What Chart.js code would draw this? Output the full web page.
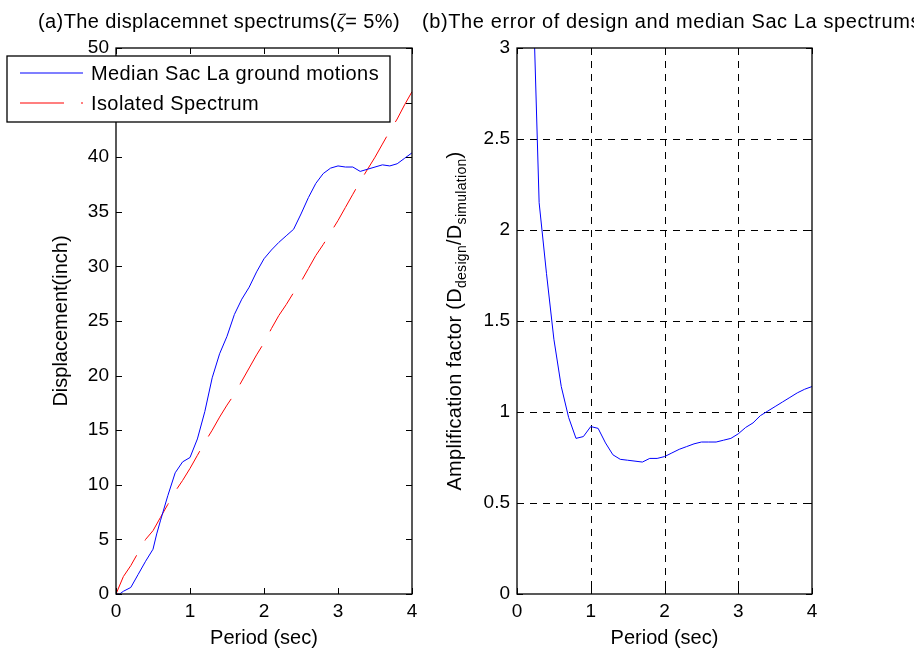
<!DOCTYPE html>
<html>
<head>
<meta charset="utf-8">
<script src="https://cdn.jsdelivr.net/npm/chart.js@4.4.0/dist/chart.umd.min.js"></script>
<style>
body { margin:0; width:914px; height:666px; overflow:hidden; position:relative; background:#fff; font-family:"Liberation Sans", Arial, sans-serif; }
.box { position:absolute; top:0; height:666px; }
.ttl { position:absolute; top:11px; font-size:20px; line-height:20px; letter-spacing:0.4px; white-space:nowrap; color:#000; z-index:2; }
</style>
</head>
<body>
<div class="ttl" style="left:38px">(a)The displacemnet spectrums(<span style="font-family:'Liberation Serif';font-style:italic">ζ</span>= 5%)</div>
<div class="ttl" style="left:422px;letter-spacing:0.6px">(b)The error of design and median Sac La spectrums</div>
<div class="box" style="left:0;width:460px"><canvas id="chartA" width="460" height="666"></canvas></div>
<div class="box" style="left:420px;width:494px"><canvas id="chartB" width="494" height="666"></canvas></div>
<script>
const FONT = '"Liberation Sans", Arial, sans-serif';

// (a) displacement spectra
const periodMedian = [0, 0.05, 0.1, 0.2, 0.3, 0.4, 0.5, 0.55, 0.6, 0.7, 0.8, 0.9, 1.0, 1.1, 1.2, 1.3, 1.4, 1.5, 1.6, 1.7, 1.8, 1.9, 2.0,
  2.1, 2.2, 2.3, 2.4, 2.5, 2.6, 2.7, 2.8, 2.9, 3.0, 3.1, 3.2, 3.3, 3.4, 3.5, 3.6, 3.7, 3.8, 3.9, 4.0];
const medianSacLa = [0, 0, 0.25, 0.6, 1.8, 3.0, 4.1, 5.5, 6.7, 9.0, 11.1, 12.1, 12.5, 14.2, 16.7, 19.8, 22.0, 23.6, 25.6, 27.0, 28.1, 29.5, 30.7,
  31.5, 32.2, 32.8, 33.4, 34.8, 36.3, 37.6, 38.5, 39.0, 39.2, 39.1, 39.1, 38.7, 38.9, 39.1, 39.3, 39.2, 39.4, 39.9, 40.4];
const periodIsolated = [0, 0.1, 0.2, 0.3, 0.4, 0.5, 0.6, 0.7, 0.8, 0.9, 1.0, 1.1, 1.2, 1.3, 1.4, 1.5, 1.6, 1.7, 1.8, 1.9, 2.0,
  2.1, 2.2, 2.3, 2.4, 2.5, 2.6, 2.7, 2.8, 2.9, 3.0, 3.1, 3.2, 3.3, 3.4, 3.5, 3.6, 3.7, 3.8, 3.9, 4.0];
const isolatedSpectrum = [0, 1.6, 2.6, 3.8, 5.0, 5.8, 7.0, 8.2, 9.4, 10.4, 11.5, 12.7, 13.9, 15.0, 16.2, 17.3, 18.3, 19.5, 20.7, 21.9, 23.0,
  24.3, 25.5, 26.5, 27.6, 28.6, 29.8, 31.0, 32.0, 33.1, 34.2, 35.4, 36.6, 37.8, 38.9, 40.0, 41.2, 42.4, 43.5, 44.8, 46.0];

// (b) amplification factor D_design / D_simulation
const periodRatio = [0.2, 0.3, 0.4, 0.5, 0.6, 0.7, 0.8, 0.9, 1.0, 1.1, 1.2, 1.3, 1.4, 1.5, 1.6, 1.7, 1.8, 1.9, 2.0,
  2.1, 2.2, 2.3, 2.4, 2.5, 2.6, 2.7, 2.8, 2.9, 3.0, 3.1, 3.2, 3.3, 3.4, 3.5, 3.6, 3.7, 3.8, 3.9, 4.0];
const amplification = [3.55, 2.15, 1.76, 1.40, 1.14, 0.97, 0.855, 0.865, 0.92, 0.91, 0.83, 0.765, 0.74, 0.735, 0.73, 0.725, 0.745, 0.745, 0.755,
  0.775, 0.795, 0.81, 0.825, 0.835, 0.835, 0.835, 0.845, 0.855, 0.88, 0.915, 0.94, 0.98, 1.005, 1.03, 1.055, 1.08, 1.105, 1.125, 1.14];

const legendLabels = ['Median Sac La ground motions', 'Isolated Spectrum'];
const redDash = [44, 17];

const pts = (xs, ys) => xs.map((x, i) => ({ x: x, y: ys[i] }));

// box, inward ticks and (optional) dashed grid, matlab style
const frame = {
  id: 'frame',
  beforeDatasetsDraw(chart, args, opts) {
    if (!opts.grid) return;
    const { ctx, chartArea: a, scales: { x, y } } = chart;
    ctx.save();
    ctx.strokeStyle = '#000';
    ctx.lineWidth = 1;
    ctx.setLineDash([7, 6]);
    ctx.beginPath();
    x.ticks.forEach(t => {
      const px = Math.round(x.getPixelForValue(t.value)) + 0.5;
      if (px > a.left + 2 && px < a.right - 2) { ctx.moveTo(px, a.top); ctx.lineTo(px, a.bottom); }
    });
    y.ticks.forEach(t => {
      const py = Math.round(y.getPixelForValue(t.value)) + 0.5;
      if (py > a.top + 2 && py < a.bottom - 2) { ctx.moveTo(a.left, py); ctx.lineTo(a.right, py); }
    });
    ctx.stroke();
    ctx.restore();
  },
  afterDatasetsDraw(chart) {
    const { ctx, chartArea: a, scales: { x, y } } = chart;
    ctx.save();
    ctx.strokeStyle = '#000';
    ctx.lineWidth = 1;
    ctx.beginPath();
    x.ticks.forEach(t => {
      const px = Math.round(x.getPixelForValue(t.value)) + 0.5;
      ctx.moveTo(px, a.bottom); ctx.lineTo(px, a.bottom - 6);
      ctx.moveTo(px, a.top); ctx.lineTo(px, a.top + 6);
    });
    y.ticks.forEach(t => {
      const py = Math.round(y.getPixelForValue(t.value)) + 0.5;
      ctx.moveTo(a.left, py); ctx.lineTo(a.left + 6, py);
      ctx.moveTo(a.right, py); ctx.lineTo(a.right - 6, py);
    });
    ctx.stroke();
    ctx.lineWidth = 1.3;
    ctx.strokeRect(Math.round(a.left), Math.round(a.top), Math.round(a.right - a.left), Math.round(a.bottom - a.top));
    ctx.restore();
  }
};

// legend box sitting over the top-left corner
const boxLegend = {
  id: 'boxLegend',
  afterDraw(chart) {
    const ctx = chart.ctx;
    ctx.save();
    ctx.fillStyle = '#fff';
    ctx.fillRect(7, 56, 383, 66);
    ctx.strokeStyle = '#000';
    ctx.lineWidth = 1.3;
    ctx.strokeRect(7, 56, 383, 66);
    ctx.font = '20px ' + FONT;
    ctx.letterSpacing = '0.4px';
    ctx.fillStyle = '#000';
    ctx.textBaseline = 'middle';
    const rows = [73, 103];
    chart.data.datasets.forEach((ds, i) => {
      ctx.strokeStyle = ds.borderColor;
      ctx.lineWidth = 1.2;
      ctx.setLineDash(ds.borderDash || []);
      ctx.beginPath();
      ctx.moveTo(20, rows[i]);
      ctx.lineTo(83, rows[i]);
      ctx.stroke();
      ctx.setLineDash([]);
      ctx.fillText(legendLabels[i], 91, rows[i] + 1.5);
    });
    ctx.restore();
  }
};

// y label with subscripts for panel (b)
const ampLabel = {
  id: 'ampLabel',
  afterDraw(chart) {
    const { ctx, chartArea: a } = chart;
    const parts = [
      { t: 'Amplification factor (D', s: 20, dy: 0 },
      { t: 'design', s: 14, dy: 5 },
      { t: '/D', s: 20, dy: 0 },
      { t: 'simulation', s: 14, dy: 5 },
      { t: ')', s: 20, dy: 0 }
    ];
    ctx.save();
    ctx.letterSpacing = '0.3px';
    let total = 0;
    parts.forEach(p => { ctx.font = p.s + 'px ' + FONT; p.w = ctx.measureText(p.t).width; total += p.w; });
    ctx.translate(40.5, (a.top + a.bottom) / 2);
    ctx.rotate(-Math.PI / 2);
    ctx.fillStyle = '#000';
    ctx.textBaseline = 'alphabetic';
    let cx = -total / 2;
    parts.forEach(p => {
      ctx.font = p.s + 'px ' + FONT;
      ctx.fillText(p.t, cx, p.dy);
      cx += p.w;
    });
    ctx.restore();
  }
};

const tickFont = { family: FONT, size: 19 };
const titleFont = { family: FONT, size: 20 };
const plainTick = v => String(v);

new Chart(document.getElementById('chartA'), {
  type: 'line',
  data: {
    datasets: [
      { label: legendLabels[0], data: pts(periodMedian, medianSacLa), borderColor: '#0000ff', borderWidth: 1, pointRadius: 0, tension: 0 },
      { label: legendLabels[1], data: pts(periodIsolated, isolatedSpectrum), borderColor: '#ff0000', borderWidth: 1, borderDash: redDash, pointRadius: 0, tension: 0 }
    ]
  },
  options: {
    responsive: false,
    animation: false,
    events: [],
    layout: { padding: { top: 48, right: 48, left: 0, bottom: 0 } },
    plugins: { legend: { display: false }, tooltip: { enabled: false }, frame: { grid: false } },
    scales: {
      x: {
        type: 'linear', min: 0, max: 4,
        afterFit: s => { s.height = 72; },
        ticks: { stepSize: 1, padding: 6, color: '#000', font: tickFont, callback: plainTick },
        grid: { display: false, drawTicks: false },
        border: { display: false },
        title: { display: true, text: 'Period (sec)', color: '#000', font: titleFont, padding: { top: 0, bottom: 16 } }
      },
      y: {
        type: 'linear', min: 0, max: 50,
        afterFit: s => { s.width = 116; },
        ticks: { stepSize: 5, padding: 7, color: '#000', font: tickFont, callback: plainTick },
        grid: { display: false, drawTicks: false },
        border: { display: false },
        title: { display: true, text: 'Displacement(inch)', color: '#000', font: titleFont, padding: { top: 49.5, bottom: 0 } }
      }
    }
  },
  plugins: [frame, boxLegend]
});

new Chart(document.getElementById('chartB'), {
  type: 'line',
  data: {
    datasets: [
      { label: 'Amplification factor', data: pts(periodRatio, amplification), borderColor: '#0000ff', borderWidth: 1, pointRadius: 0, tension: 0 }
    ]
  },
  options: {
    responsive: false,
    animation: false,
    events: [],
    layout: { padding: { top: 48, right: 102, left: 0, bottom: 0 } },
    plugins: { legend: { display: false }, tooltip: { enabled: false }, frame: { grid: true } },
    scales: {
      x: {
        type: 'linear', min: 0, max: 4,
        afterFit: s => { s.height = 72; },
        ticks: { stepSize: 1, padding: 6, color: '#000', font: tickFont, callback: plainTick },
        grid: { display: false, drawTicks: false },
        border: { display: false },
        title: { display: true, text: 'Period (sec)', color: '#000', font: titleFont, padding: { top: 0, bottom: 16 } }
      },
      y: {
        type: 'linear', min: 0, max: 3,
        afterFit: s => { s.width = 97; },
        ticks: { stepSize: 0.5, padding: 7, color: '#000', font: tickFont, callback: plainTick },
        grid: { display: false, drawTicks: false },
        border: { display: false }
      }
    }
  },
  plugins: [frame, ampLabel]
});
</script>
</body>
</html>
